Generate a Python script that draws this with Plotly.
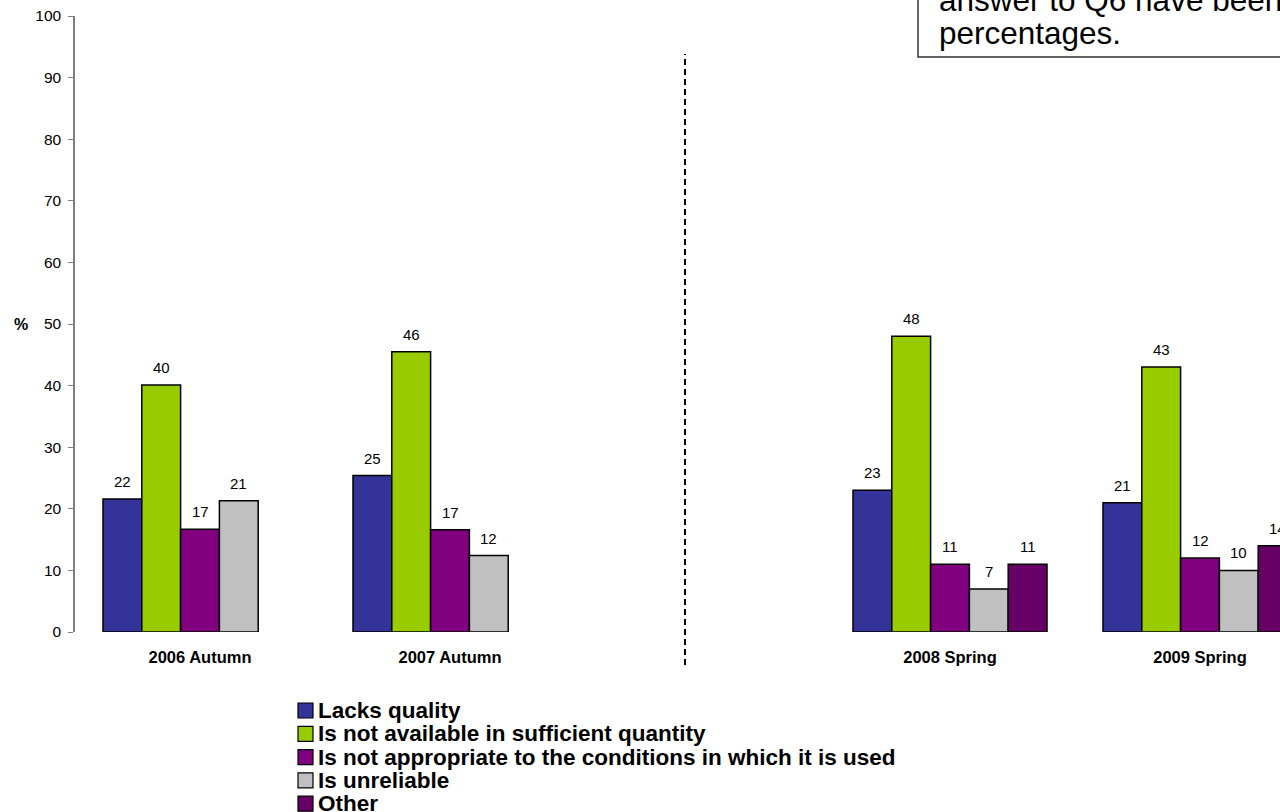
import plotly.graph_objects as go

categories = ["2006 Autumn", "2007 Autumn", "2008 Spring", "2009 Spring"]
cat_pos = [0, 1, 3, 4]  # an empty slot separates autumn and spring waves
series_names = [
    "Lacks quality",
    "Is not available in sufficient quantity",
    "Is not appropriate to the conditions in which it is used",
    "Is unreliable",
    "Other",
]
lacks_quality = [21.6, 25.4, 23, 21]
not_sufficient = [40.1, 45.5, 48, 43]
not_appropriate = [16.7, 16.6, 11, 12]
unreliable = [21.3, 12.4, 7, 10]
other = [None, None, 11, 14]
colors = ["#333399", "#99CC00", "#800080", "#C0C0C0", "#660066"]
y_ticks = [0, 10, 20, 30, 40, 50, 60, 70, 80, 90, 100]
note_lines = ["answer to Q6 have been excluded from the", "percentages."]

FONT = "Liberation Sans, Arial, sans-serif"
W, H = 1280, 812
ML, MR, MT, MB = 75, 0, 16, 180
PW, PH = W - ML - MR, H - MT - MB


def px(x):
    return (x - ML) / PW


def py(y):
    return (H - MB - y) / PH


BARGAP = 0.224
series = [lacks_quality, not_sufficient, not_appropriate, unreliable, other]
fig = go.Figure()
for name, vals, col in zip(series_names, series, colors):
    fig.add_trace(go.Bar(
        x=cat_pos, y=vals, name=name, showlegend=False,
        marker=dict(color=col, line=dict(color="black", width=1.5)),
    ))

# value labels above each bar
slot = (1 - BARGAP) / len(series)
for i, vals in enumerate(series):
    for c, v in zip(cat_pos, vals):
        if v is None:
            continue
        fig.add_annotation(x=c + (i - (len(series) - 1) / 2) * slot, y=v,
                           xref="x", yref="y", text=f"{round(v):d}",
                           showarrow=False, yanchor="bottom", yshift=7,
                           font=dict(size=15, color="black"))

x_range = [-0.5, 4.32]
sep_x = 1.94
fig.update_layout(
    width=W, height=H,
    margin=dict(l=ML, r=MR, t=MT, b=MB, autoexpand=False),
    paper_bgcolor="white", plot_bgcolor="white",
    barmode="group", bargap=BARGAP, bargroupgap=0,
    font=dict(family=FONT, color="black"),
    showlegend=False,
    xaxis=dict(range=x_range, tickvals=cat_pos,
               ticktext=["<b>%s</b>" % c for c in categories],
               tickfont=dict(size=16.5), showline=False, showgrid=False,
               zeroline=False, ticks="", ticklabelstandoff=13),
    yaxis=dict(range=[0, 100], tickvals=y_ticks, showgrid=False, zeroline=False,
               showline=True, linecolor="#808080", linewidth=1.5,
               ticks="outside", ticklen=5, tickcolor="#808080", tickwidth=1,
               tickfont=dict(size=15.5), ticklabelstandoff=4),
)
fig.add_annotation(text="<b>%</b>", xref="paper", yref="y", x=px(21), y=50,
                   showarrow=False, font=dict(size=16), xanchor="center")

# dashed separator between autumn and spring waves
sep_paper = (sep_x - x_range[0]) / (x_range[1] - x_range[0])
fig.add_shape(type="line", xref="paper", yref="paper",
              x0=sep_paper, x1=sep_paper, y0=py(665), y1=py(54),
              line=dict(color="black", width=2, dash="6px,4px"))

# note box (partly outside the visible page)
fig.add_shape(type="rect", xref="paper", yref="paper",
              x0=px(918), x1=px(1400), y0=py(57), y1=py(-100),
              line=dict(color="#333333", width=1.5), fillcolor="white", layer="above")
for line, base in zip(note_lines, [7, 40]):
    fig.add_annotation(text=line, xref="paper", yref="paper", x=px(937), y=py(base - 7),
                       xanchor="left", yanchor="middle", showarrow=False, align="left",
                       font=dict(size=31.5, color="black"))

# legend below the chart
for i, (name, col) in enumerate(zip(series_names, colors)):
    top = 703 + i * 23.3
    fig.add_shape(type="rect", xref="paper", yref="paper",
                  x0=px(298), x1=px(313), y0=py(top + 15), y1=py(top),
                  line=dict(color="black", width=1.2), fillcolor=col)
    fig.add_annotation(text="<b>%s</b>" % name, xref="paper", yref="paper",
                       x=px(316), y=py(top + 7.5), xanchor="left", yanchor="middle",
                       showarrow=False, font=dict(size=22.5, color="black"))

fig.write_html("out.html", config={"displayModeBar": False},
               post_script="document.body.style.margin='0';")
